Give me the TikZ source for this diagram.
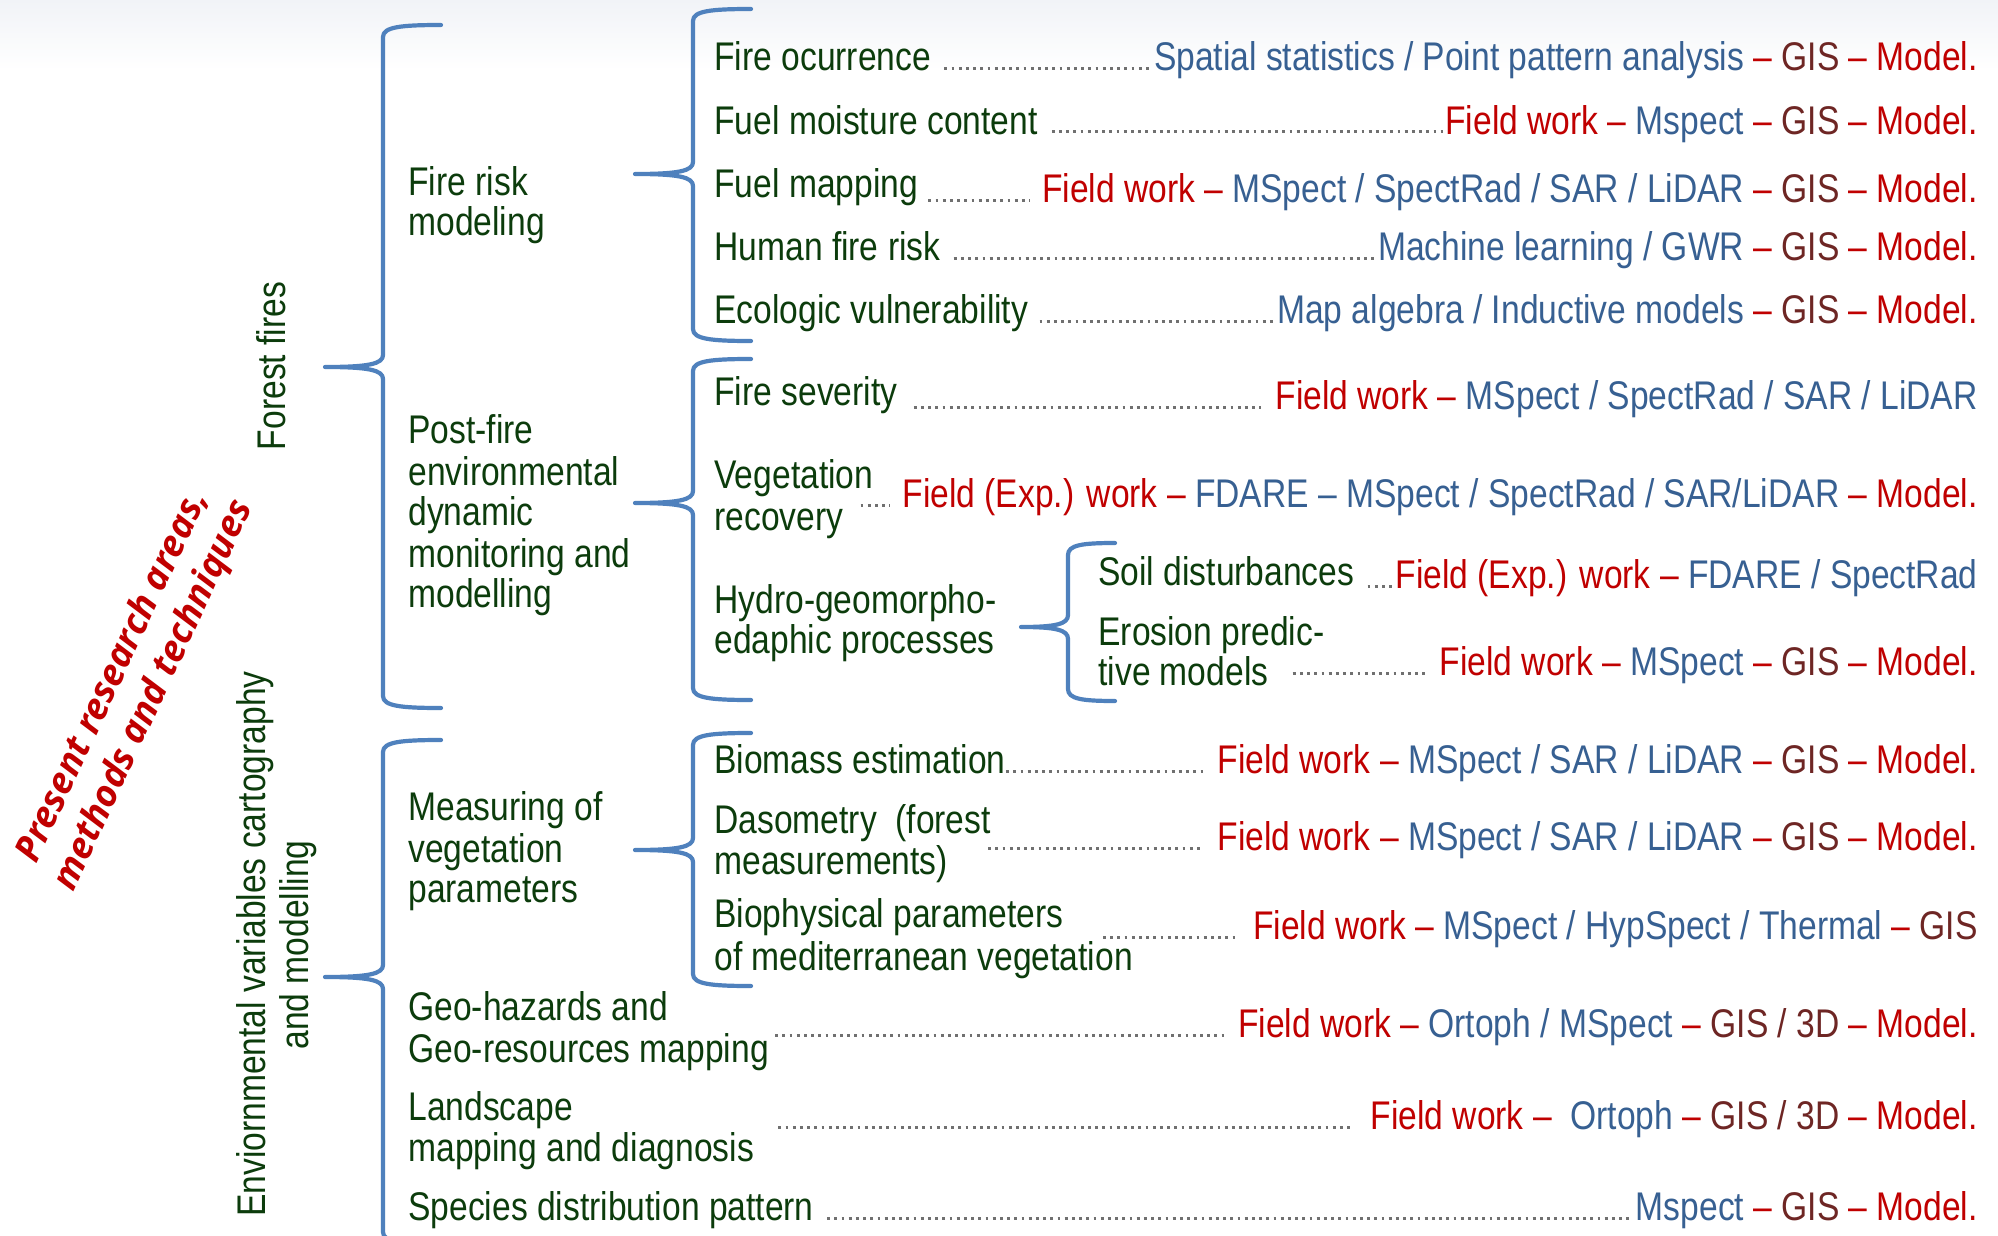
\documentclass[tikz,border=0pt]{standalone}
\usepackage{fontspec}
\setmainfont{Liberation Sans}[FakeStretch=0.84]
\newfontfamily\presfont{Open Sans}
\usetikzlibrary{calc}
\definecolor{cgreen}{RGB}{12,60,12}
\definecolor{cblue}{RGB}{55,96,146}
\definecolor{cred}{RGB}{192,0,0}
\definecolor{cgis}{RGB}{110,38,36}
\definecolor{cbrace}{RGB}{79,129,189}
\definecolor{cdots}{RGB}{112,112,112}
\definecolor{ctop}{RGB}{241,243,247}
\newcommand\blu[1]{\textcolor{cblue}{#1}}
\newcommand\rd[1]{\textcolor{cred}{#1}}
\newcommand\gis[1]{\textcolor{cgis}{#1}}
\newcommand\dsh{\ \textcolor{cred}{\textendash}\ }
\newcommand\lblfont{\fontsize{20}{20.5}\selectfont}
% brace: #1 x of vertical line, #2 top y, #3 bottom y, #4 tip y, #5 hook length
\newcommand\curlybrace[5]{%
  \draw[bracestyle] ({#1+#5},#2) .. controls ({#1+0.3*#5},#2) and (#1,{#2+2}) .. (#1,{#2+12})
    -- (#1,{#4-12}) .. controls (#1,{#4-3}) and ({#1-0.25*#5},#4) .. ({#1-#5},#4)
    .. controls ({#1-0.25*#5},#4) and (#1,{#4+3}) .. (#1,{#4+12})
    -- (#1,{#3-12}) .. controls (#1,{#3-2}) and ({#1+0.3*#5},#3) .. ({#1+#5},#3);}
% leader: #1 label node, #2 technique node, #3 start gap, #4 end gap
\newcommand\leader[4]{%
  \draw[leaderline] ($(#1.east |- #2.base)+(#3,-2)$) -- ($(#2.base west)+(-#4,-2)$);}
\begin{document}
\begin{tikzpicture}[x=0.5pt,y=-0.5pt,
  lbl/.style={anchor=base west, inner sep=0pt, text=cgreen, font=\lblfont},
  tech/.style={anchor=base east, inner sep=0pt, font=\lblfont},
  side/.style={rotate=90, anchor=base, inner sep=0pt, text=cgreen, font=\lblfont},
  bracestyle/.style={draw=cbrace, line width=2.1pt, line cap=round, line join=round},
  leaderline/.style={draw=cdots, line width=1.5pt, dash pattern=on 1.4pt off 2.2pt}]
\useasboundingbox (0,0) rectangle (1998,1236);
\clip (0,0) rectangle (1998,1236);
\fill[white] (0,0) rectangle (1998,1236);
\shade[top color=ctop, bottom color=white] (0,0) rectangle (1998,70);

% titles
\node[rotate=65, align=center, inner sep=0pt, text=cred,
  font=\presfont\bfseries\itshape\fontsize{18.3}{22.5}\selectfont] (title) at (134,686)
  {Present research areas,\\methods and techniques};
\node[side] (forest) at (285,366) {Forest fires};
\node[side] (env1) at (265,944) {Enviornmental variables cartography};
\node[side] (env2) at (308,945) {and modelling};

% braces
\curlybrace{383}{25}{708}{367}{58}
\curlybrace{383}{740}{1244}{977}{58}
\curlybrace{693}{9}{341}{174}{58}
\curlybrace{693}{359}{700}{503}{58}
\curlybrace{1068}{543}{701}{627}{47}
\curlybrace{693}{733}{986}{850}{58}

% level 1
\node[lbl] (fr1) at (408,195) {Fire risk};
\node[lbl] (fr2) at (408,235) {modeling};
\node[lbl] (pf1) at (408,443) {Post-fire};
\node[lbl] (pf2) at (408,485) {environmental};
\node[lbl] (pf3) at (408,525) {dynamic};
\node[lbl] (pf4) at (408,567) {monitoring and};
\node[lbl] (pf5) at (408,607) {modelling};
\node[lbl] (mv1) at (408,820) {Measuring of};
\node[lbl] (mv2) at (408,862) {vegetation};
\node[lbl] (mv3) at (408,902) {parameters};
\node[lbl] (gh1) at (408,1020) {Geo-hazards and};
\node[lbl] (gh2) at (408,1062) {Geo-resources mapping};
\node[lbl] (ls1) at (408,1120) {Landscape};
\node[lbl] (ls2) at (408,1161) {mapping and diagnosis};
\node[lbl] (sp) at (408,1220) {Species distribution pattern};

% level 2
\node[lbl] (fo) at (714,71) {Fire ocurrence};
\node[lbl] (fm) at (714,134) {Fuel moisture content};
\node[lbl] (fmap) at (714,198) {Fuel mapping};
\node[lbl] (hf) at (714,260) {Human fire risk};
\node[lbl] (ev) at (714,323) {Ecologic vulnerability};
\node[lbl] (fs) at (714,405) {Fire severity};
\node[lbl] (vr1) at (714,488) {Vegetation};
\node[lbl] (vr2) at (714,530) {recovery};
\node[lbl] (hg1) at (714,613) {Hydro-geomorpho-};
\node[lbl] (hg2) at (714,653) {edaphic processes};
\node[lbl] (be) at (714,773) {Biomass estimation};
\node[lbl] (da1) at (714,833) {Dasometry\ \ (forest};
\node[lbl] (da2) at (714,874) {measurements)};
\node[lbl] (bp1) at (714,927) {Biophysical parameters};
\node[lbl] (bp2) at (714,970) {of mediterranean vegetation};

% level 3
\node[lbl] (sd) at (1098,585) {Soil disturbances};
\node[lbl] (er1) at (1098,645) {Erosion predic-};
\node[lbl] (er2) at (1098,685) {tive models};

% techniques
\node[tech] (t1) at (1978,71) {\blu{Spatial statistics / Point pattern analysis}\dsh\gis{GIS}\dsh\rd{Model.}};
\node[tech] (t2) at (1978,134) {\rd{Field work}\dsh\blu{Mspect}\dsh\gis{GIS}\dsh\rd{Model.}};
\node[tech] (t3) at (1978,202) {\rd{Field work}\dsh\blu{MSpect / SpectRad / SAR / LiDAR}\dsh\gis{GIS}\dsh\rd{Model.}};
\node[tech] (t4) at (1978,260) {\blu{Machine learning / GWR}\dsh\gis{GIS}\dsh\rd{Model.}};
\node[tech] (t5) at (1978,323) {\blu{Map algebra / Inductive models}\dsh\gis{GIS}\dsh\rd{Model.}};
\node[tech] (t6) at (1978,409) {\rd{Field work}\dsh\blu{MSpect / SpectRad / SAR / LiDAR}};
\node[tech] (t7) at (1978,507) {\rd{Field (Exp.) work}\dsh\blu{FDARE \textendash{} MSpect / SpectRad / SAR/LiDAR}\dsh\rd{Model.}};
\node[tech] (t8) at (1978,588) {\rd{Field (Exp.) work}\dsh\blu{FDARE / SpectRad}};
\node[tech] (t9) at (1978,675) {\rd{Field work}\dsh\blu{MSpect}\dsh\gis{GIS}\dsh\rd{Model.}};
\node[tech] (t10) at (1978,773) {\rd{Field work}\dsh\blu{MSpect / SAR / LiDAR}\dsh\gis{GIS}\dsh\rd{Model.}};
\node[tech] (t11) at (1978,850) {\rd{Field work}\dsh\blu{MSpect / SAR / LiDAR}\dsh\gis{GIS}\dsh\rd{Model.}};
\node[tech] (t12) at (1978,939) {\rd{Field work}\dsh\blu{MSpect / HypSpect / Thermal}\dsh\gis{GIS}};
\node[tech] (t13) at (1978,1037) {\rd{Field work}\dsh\blu{Ortoph / MSpect}\dsh\gis{GIS / 3D}\dsh\rd{Model.}};
\node[tech] (t14) at (1978,1129) {\rd{Field work \textendash}\ \ \blu{Ortoph}\dsh\gis{GIS / 3D}\dsh\rd{Model.}};
\node[tech] (t15) at (1978,1220) {\blu{Mspect}\dsh\gis{GIS}\dsh\rd{Model.}};

% dotted leaders
\leader{fo}{t1}{13}{1}
\leader{fm}{t2}{14}{2}
\leader{fmap}{t3}{10}{12}
\leader{hf}{t4}{13}{2}
\leader{ev}{t5}{11}{3}
\leader{fs}{t6}{16}{14}
\leader{vr2}{t7}{17}{12}
\leader{sd}{t8}{13}{2}
\leader{er2}{t9}{24}{12}
\leader{be}{t10}{0}{14}
\leader{da2}{t11}{40}{14}
\leader{bp1}{t12}{39}{15}
\leader{gh2}{t13}{6}{13}
\leader{ls2}{t14}{24}{17}
\leader{sp}{t15}{13}{6}
\end{tikzpicture}
\end{document}
